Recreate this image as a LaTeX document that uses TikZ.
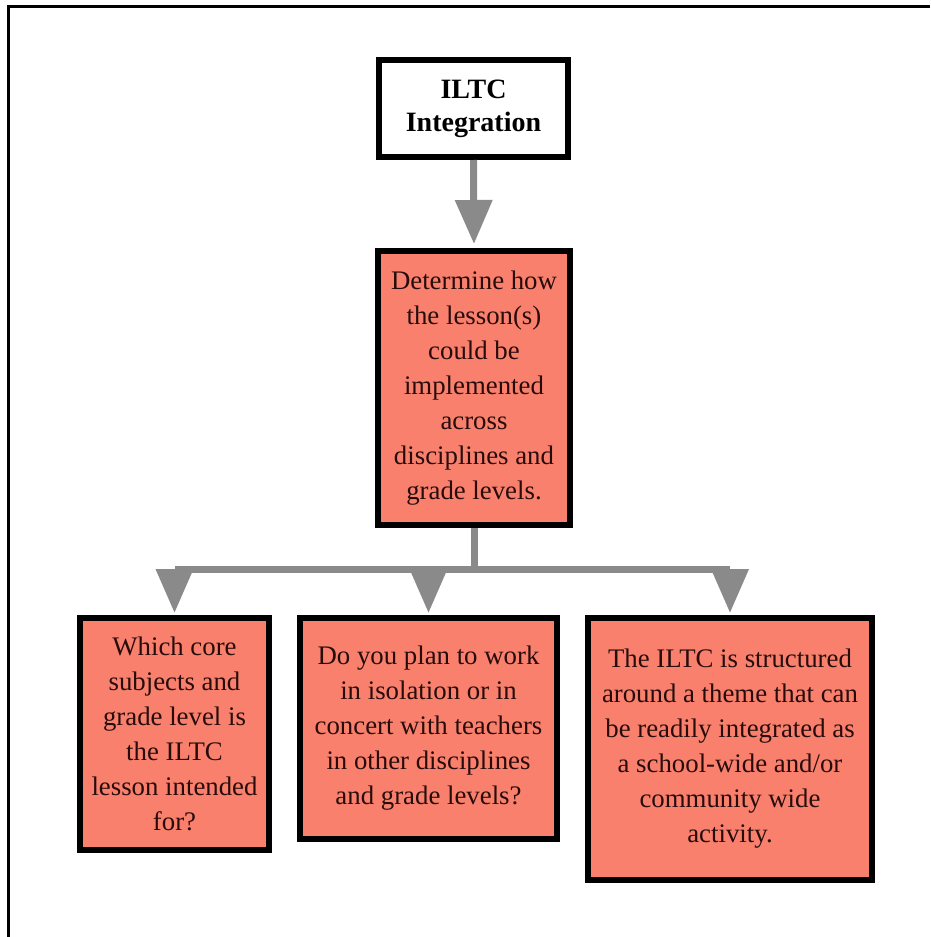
\documentclass[tikz,border=0pt]{standalone}
\usepackage{fontspec}
\setmainfont{Liberation Serif}
\usetikzlibrary{arrows.meta}
\definecolor{boxfill}{RGB}{248,128,108}
\definecolor{linkgrey}{RGB}{138,138,138}
\definecolor{boxtext}{RGB}{40,12,12}

\begin{document}
\begin{tikzpicture}[x=1pt, y=-1pt,
  box/.style={draw=black, line width=6pt, fill=boxfill, text=boxtext, align=center,
    inner sep=0pt, font=\fontsize{26.8}{35}\selectfont},
  headbox/.style={box, fill=white, text=black, font=\bfseries\fontsize{28}{33}\selectfont},
  bar/.style={draw=linkgrey, line width=7pt},
  link/.style={bar, -{Triangle[width=36pt,length=44pt]}}]
  \useasboundingbox (0,0) rectangle (930,937);

  % frame, cut off at the right and bottom
  \draw[line width=3pt] (930,6) -- (8,6) -- (8,937);

  \node[headbox, minimum width=189, minimum height=97] (iltc) at (473.5,108.5)
    {ILTC\\Integration};
  \node[box, minimum width=192, minimum height=274] (how) at (474,388)
    {Determine how\\the lesson(s)\\could be\\implemented\\across\\disciplines and\\grade levels.};

  \node[box, minimum width=189, minimum height=232] (core) at (174.5,734)
    {Which core\\subjects and\\grade level is\\the ILTC\\lesson intended\\for?};
  \node[box, minimum width=257, minimum height=221] (plan) at (428.5,728.5)
    {Do you plan to work\\in isolation or in\\concert with teachers\\in other disciplines\\and grade levels?};
  \node[box, minimum width=284, minimum height=262] (theme) at (730,749)
    {The ILTC is structured\\around a theme that can\\be readily integrated as\\a school-wide and/or\\community wide\\activity.};

  \coordinate (split) at (474,569);

  \draw[link, shorten >=4pt] (iltc.south) -- (how.north);
  \draw[bar] (how.south) -- (split);
  \draw[bar] (split -| core.north) -- (split -| theme.north);
  \foreach \b in {core,plan,theme}
    \draw[link, shorten >=2pt] (split -| \b.north) -- (\b.north);
\end{tikzpicture}
\end{document}
